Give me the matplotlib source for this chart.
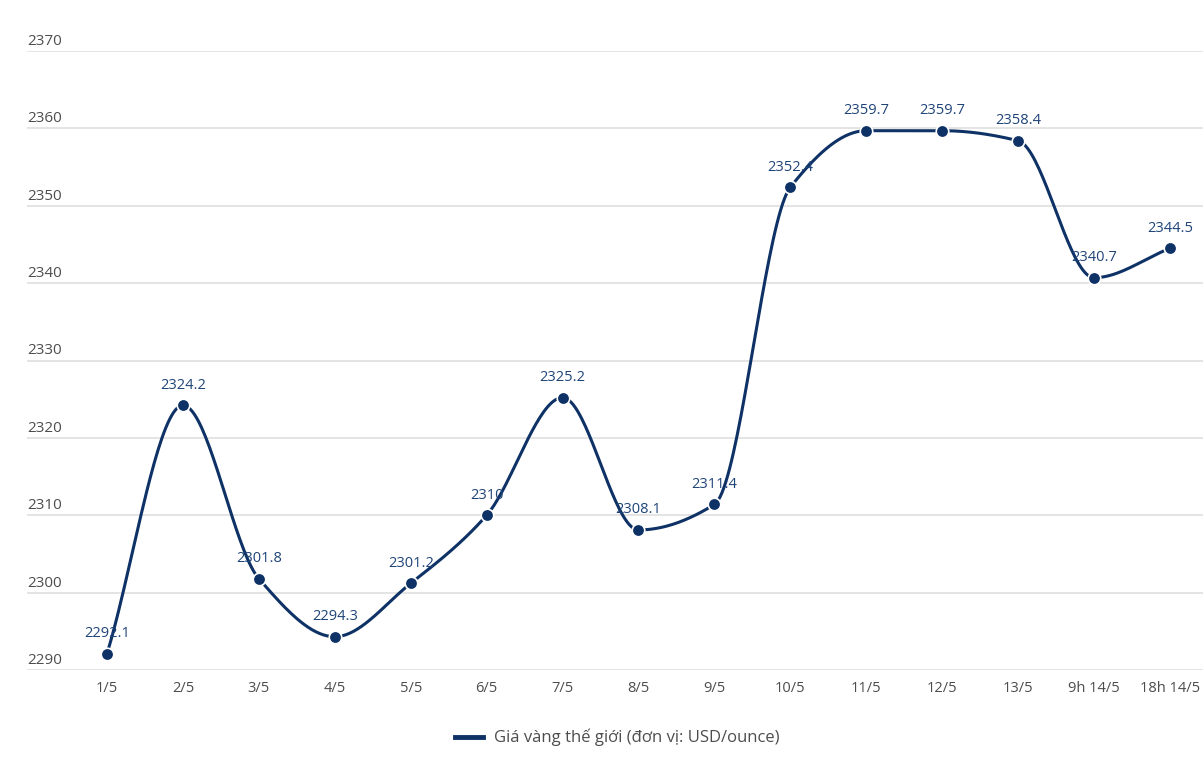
import numpy as np
import matplotlib
matplotlib.use("Agg")
import matplotlib.pyplot as plt
from matplotlib.transforms import blended_transform_factory

categories = ["1/5", "2/5", "3/5", "4/5", "5/5", "6/5", "7/5", "8/5", "9/5",
              "10/5", "11/5", "12/5", "13/5", "9h 14/5", "18h 14/5"]
values = [2292.1, 2324.2, 2301.8, 2294.3, 2301.2, 2310, 2325.2, 2308.1, 2311.4,
          2352.4, 2359.7, 2359.7, 2358.4, 2340.7, 2344.5]
labels = ["2292.1", "2324.2", "2301.8", "2294.3", "2301.2", "2310", "2325.2", "2308.1",
          "2311.4", "2352.4", "2359.7", "2359.7", "2358.4", "2340.7", "2344.5"]
yticks = [2290, 2300, 2310, 2320, 2330, 2340, 2350, 2360, 2370]
series_name = "Giá vàng thế giới (đơn vị: USD/ounce)"

plt.rcParams['font.family'] = ['Open Sans', 'DejaVu Sans']

LINE = "#0e3266"
LABEL = "#1f4478"
GRID = "#dddddd"
TXT = "#4d4d4d"


def monotone(x, y, n=40):
    x = np.asarray(x, float); y = np.asarray(y, float)
    h = np.diff(x); d = np.diff(y) / h
    m = np.zeros_like(y)
    m[0] = d[0]; m[-1] = d[-1]
    for k in range(1, len(y) - 1):
        if d[k - 1] * d[k] <= 0:
            m[k] = 0
        else:
            w1 = 2 * h[k] + h[k - 1]; w2 = h[k] + 2 * h[k - 1]
            m[k] = (w1 + w2) / (w1 / d[k - 1] + w2 / d[k])
    xs, ys = [], []
    for k in range(len(h)):
        t = np.linspace(0, 1, n, endpoint=(k == len(h) - 1))
        h00 = 2 * t**3 - 3 * t**2 + 1; h10 = t**3 - 2 * t**2 + t
        h01 = -2 * t**3 + 3 * t**2; h11 = t**3 - t**2
        xs.append(x[k] + t * h[k])
        ys.append(h00 * y[k] + h10 * h[k] * m[k] + h01 * y[k + 1] + h11 * h[k] * m[k + 1])
    return np.concatenate(xs), np.concatenate(ys)


fig = plt.figure(figsize=(12.03, 7.82), dpi=100)
W, H = 1203, 782
ax = fig.add_axes([27 / W, 1 - 670 / H, (1203 - 27) / W, (670 - 51) / H])
x = np.arange(len(categories))
ax.set_xlim(-80 / 75.93, 14 + 33 / 75.93)
ax.set_ylim(2290, 2370)
for s in ax.spines.values():
    s.set_visible(False)
ax.set_yticks([])
ax.set_xticks(x)
ax.set_xticklabels(categories, fontsize=10.5, color=TXT)
ax.tick_params(axis='x', length=0, pad=8)
for t in yticks:
    ax.axhline(t, color=GRID, lw=1.1, zorder=0)
tr = blended_transform_factory(ax.transAxes, ax.transData)
for t in yticks:
    ax.annotate(str(t), xy=(0, t), xycoords=tr, xytext=(0, 1.5), textcoords='offset points',
                ha='left', va='bottom', fontsize=11, color=TXT)

sx, sy = monotone(x, values)
ax.plot(sx, sy, color=LINE, lw=2.2, zorder=3, clip_on=False, solid_capstyle='round')
ax.plot(x, values, 'o', ms=9, color=LINE, mec='white', mew=1.2, zorder=4, clip_on=False)
for xi, v, lab in zip(x, values, labels):
    ax.annotate(lab, xy=(xi, v), xytext=(0, 9), textcoords='offset points',
                ha='center', va='bottom', fontsize=10.5, color=LABEL, zorder=5)

fig.lines.append(plt.Line2D([455 / W, 483 / W], [1 - 737 / H, 1 - 737 / H],
                            transform=fig.transFigure, color=LINE, lw=3.5))
fig.text(494 / W, 1 - 737 / H, series_name, ha='left', va='center', fontsize=12, color=TXT)

fig.savefig("out.png", dpi=100)
